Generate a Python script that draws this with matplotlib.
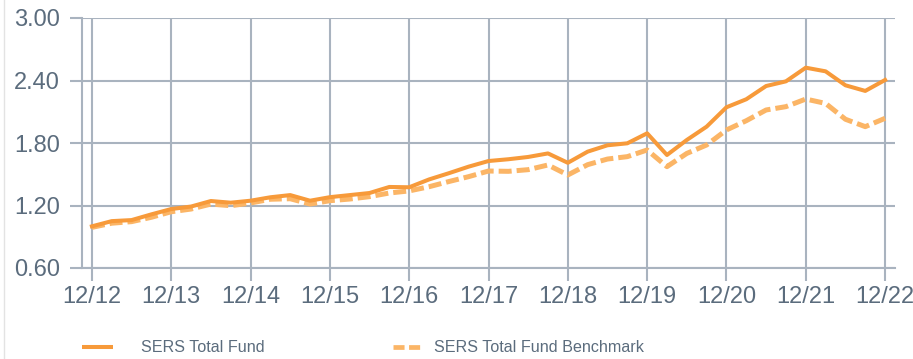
import matplotlib
matplotlib.use("Agg")
import matplotlib.pyplot as plt
from matplotlib.lines import Line2D

# Quarterly growth of $1, Dec 2012 through Dec 2022
quarters = list(range(41))
year_labels = ["12/12", "12/13", "12/14", "12/15", "12/16", "12/17",
               "12/18", "12/19", "12/20", "12/21", "12/22"]

total_fund = [
    1.00, 1.05, 1.06, 1.115,
    1.166, 1.19, 1.243, 1.227,
    1.246, 1.279, 1.30, 1.246,
    1.28, 1.30, 1.32, 1.378,
    1.375, 1.45, 1.51, 1.573,
    1.627, 1.644, 1.666, 1.70,
    1.61, 1.717, 1.778, 1.797,
    1.893, 1.685, 1.829, 1.957,
    2.143, 2.22, 2.347, 2.392,
    2.523, 2.488, 2.354, 2.30,
    2.405,
]

benchmark = [
    0.99, 1.03, 1.045, 1.087,
    1.14, 1.166, 1.214, 1.198,
    1.224, 1.26, 1.265, 1.214,
    1.246, 1.262, 1.285, 1.32,
    1.34, 1.38, 1.43, 1.477,
    1.531, 1.528, 1.544, 1.589,
    1.493, 1.592, 1.646, 1.669,
    1.733, 1.573, 1.70, 1.781,
    1.925, 2.014, 2.117, 2.149,
    2.222, 2.18, 2.028, 1.957,
    2.037,
]

y_ticks = [0.60, 1.20, 1.80, 2.40, 3.00]

plt.rcParams["font.family"] = ["Liberation Sans", "DejaVu Sans"]

GRID = "#a9b3bf"
TEXT = "#5b6c7d"
FUND_COLOR = "#f79a3a"
BENCH_COLOR = "#fbb566"

W, H = 913, 359
fig = plt.figure(figsize=(W / 100, H / 100), dpi=100)
ax = fig.add_axes([82 / W, 1 - 268 / H, (895 - 82) / W, (268 - 18) / H])

ax.plot(quarters, benchmark, color=BENCH_COLOR, lw=3.6,
        dashes=(2.6, 1.0), solid_capstyle="butt", dash_capstyle="butt",
        label="SERS Total Fund Benchmark", zorder=3)
ax.plot(quarters, total_fund, color=FUND_COLOR, lw=2.9,
        label="SERS Total Fund", zorder=4)

ax.set_xlim(-0.5, 40.5)
ax.set_ylim(0.6, 3.0)
ax.set_xticks(quarters[::4])
ax.set_xticklabels(year_labels)
ax.set_yticks(y_ticks)
ax.set_yticklabels([f"{v:.2f}" for v in y_ticks])

ax.grid(True, color=GRID, lw=1.5, zorder=1)
ax.set_axisbelow(True)
for side in ("top", "right"):
    ax.spines[side].set_visible(False)
for side in ("left", "bottom"):
    ax.spines[side].set_color(GRID)
    ax.spines[side].set_linewidth(1.5)

ax.tick_params(axis="both", colors=GRID, length=9, width=1.5,
               labelcolor=TEXT, labelsize=17)
ax.tick_params(axis="y", pad=7)
ax.tick_params(axis="x", pad=4)
ax.set_facecolor("white")

# Legend entries below the plot, one per series
LEG_FS = 11.6
fs_px = LEG_FS * 100 / 72
leg_y = 1 - 348 / H
leg1 = fig.legend([Line2D([], [], color=FUND_COLOR, lw=2.9, solid_capstyle="butt")],
                  ["SERS Total Fund"],
                  loc="center left", bbox_to_anchor=(82 / W, leg_y),
                  frameon=False, fontsize=LEG_FS, labelcolor=TEXT,
                  handlelength=31 / fs_px, handletextpad=28 / fs_px,
                  borderpad=0, borderaxespad=0)
leg2 = fig.legend([Line2D([], [], color=BENCH_COLOR, lw=3.4,
                          dashes=(11 / 4.7, 4.5 / 4.7), dash_capstyle="butt")],
                  ["SERS Total Fund Benchmark"],
                  loc="center left", bbox_to_anchor=(393 / W, leg_y),
                  frameon=False, fontsize=LEG_FS, labelcolor=TEXT,
                  handlelength=27 / fs_px, handletextpad=14 / fs_px,
                  borderpad=0, borderaxespad=0)

# Left border of the panel
fig.add_artist(Line2D([3.5 / W, 3.5 / W], [0, 1], transform=fig.transFigure,
                      color="#e3e3e3", lw=1))

fig.savefig("out.png", dpi=100, facecolor="white")
